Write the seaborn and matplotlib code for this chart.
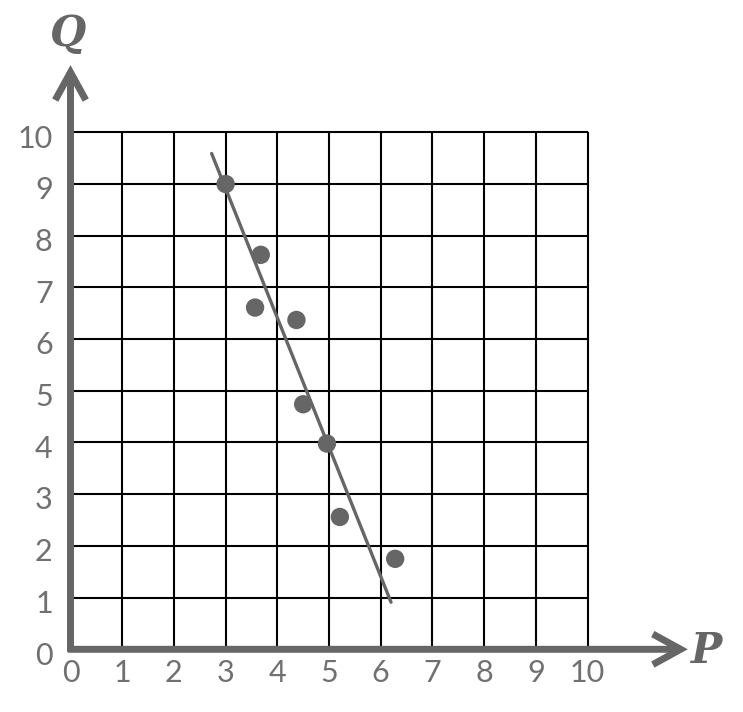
import matplotlib
matplotlib.use("Agg")
import matplotlib.pyplot as plt
import seaborn as sns
import numpy as np

# ---- data ----
p_values = [3.0, 3.68, 3.57, 4.37, 4.50, 4.96, 5.21, 6.28]
q_values = [9.0, 7.63, 6.61, 6.37, 4.74, 3.98, 2.56, 1.75]
trend_p = [2.73, 6.20]
trend_q = [9.59, 0.91]
x_ticks = list(range(0, 11))
y_ticks = list(range(0, 11))
x_tick_labels = [str(v) for v in x_ticks]
y_tick_labels = [str(v) for v in y_ticks]
x_axis_label = "P"
y_axis_label = "Q"

GRAY = "#666666"
TEXT_GRAY = "#707070"

sns.set_style("white")
plt.rcParams["font.family"] = ["Lato", "DejaVu Sans"]

fig = plt.figure(figsize=(7.43, 7.12), dpi=100)
ax = fig.add_axes([0, 0, 1, 1])
scale = 51.7
ax.set_xlim(-70.5 / scale, (743 - 70.5) / scale)
ax.set_ylim((649.3 - 712) / scale, 649.3 / scale)
ax.axis("off")

# grid
ax.vlines(x_ticks[1:], 0, max(y_ticks), colors="black", linewidth=1.5, zorder=1)
ax.hlines(y_ticks[1:], 0, max(x_ticks), colors="black", linewidth=1.5, zorder=1)

# axes with chevron arrows
arrow_style = "->,head_length=1.0,head_width=0.55"
ax.annotate("", xy=(11.94, 0), xytext=(-0.05, 0),
            arrowprops=dict(arrowstyle=arrow_style, color=GRAY, lw=5,
                            shrinkA=0, shrinkB=0, mutation_scale=20,
                            joinstyle="miter", capstyle="butt"), zorder=3)
ax.annotate("", xy=(0, 11.30), xytext=(0, -0.05),
            arrowprops=dict(arrowstyle=arrow_style, color=GRAY, lw=5,
                            shrinkA=0, shrinkB=0, mutation_scale=20,
                            joinstyle="miter", capstyle="butt"), zorder=3)

# trend line
sns.lineplot(x=trend_p, y=trend_q, ax=ax, color=GRAY, linewidth=2.4,
             sort=False, zorder=4)

# points
sns.scatterplot(x=p_values, y=q_values, ax=ax, color=GRAY, s=175,
                edgecolor="none", zorder=5)

# tick labels
for v, lab in zip(x_ticks, x_tick_labels):
    ax.text(v, -0.46, lab, ha="center", va="center", fontsize=22,
            color=TEXT_GRAY)
for v, lab in zip(y_ticks, y_tick_labels):
    ax.text(-0.344, v - 0.12, lab, ha="right", va="center", fontsize=22,
            color=TEXT_GRAY)

# axis titles
ax.text(-0.05, 11.9, y_axis_label, ha="center", va="center", fontsize=30,
        style="italic", fontweight="bold", color=GRAY,
        family=["DejaVu Serif"])
ax.text(12.3, -0.03, x_axis_label, ha="center", va="center", fontsize=30,
        style="italic", fontweight="bold", color=GRAY,
        family=["DejaVu Serif"])

fig.savefig("out.png", dpi=100)
